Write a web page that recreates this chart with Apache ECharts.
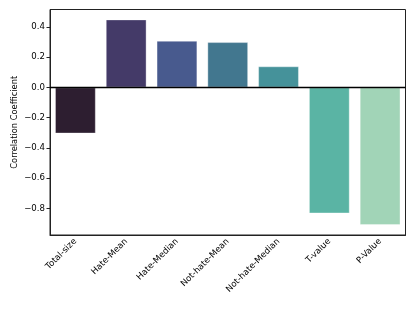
<!DOCTYPE html>
<html>
<head>
<meta charset="utf-8">
<script src="https://cdn.jsdelivr.net/npm/echarts@6/dist/echarts.min.js"></script>
<style>html,body{margin:0;padding:0;background:#fff;}#c{width:415px;height:311px;}</style>
</head>
<body>
<div id="c"></div>
<script>
const categories = ['Total-size', 'Hate-Mean', 'Hate-Median', 'Not-hate-Mean', 'Not-hate-Median', 'T-value', 'P-Value'];
const values = [-0.304, 0.449, 0.308, 0.299, 0.139, -0.832, -0.909];
const barColors = ['#2d1e30', '#443a68', '#485a8e', '#42778f', '#45929a', '#5ab4a4', '#a1d4b7'];
const yTicks = [-0.8, -0.6, -0.4, -0.2, 0.0, 0.2, 0.4];

const font = 'DejaVu Sans';
const fmt = v => (v < 0 ? '\u2212' : '') + Math.abs(v).toFixed(1);

const chart = echarts.init(document.getElementById('c'), null, {renderer: 'canvas'});
chart.setOption({
  animation: false,
  grid: {left: 50, right: 9.5, top: 9.5, bottom: 311 - 235, show: true, borderColor: '#222', borderWidth: 1, backgroundColor: 'transparent', containLabel: false, outerBoundsMode: 'none'},
  xAxis: {
    type: 'category',
    data: categories,
    axisLine: {onZero: false, lineStyle: {color: '#222', width: 1}},
    axisTick: {alignWithLabel: true, length: 3.5, lineStyle: {color: '#222'}},
    axisLabel: {rotate: 45, color: '#000', fontFamily: font, fontSize: 8.6, margin: 5},
    splitLine: {show: false}
  },
  yAxis: {
    type: 'value',
    min: -0.975,
    max: 0.515,
    name: 'Correlation Coefficient',
    nameLocation: 'middle',
    nameGap: 31,
    nameMoveOverlap: false,
    nameTextStyle: {color: '#000', fontFamily: font, fontSize: 8.3},
    axisLine: {show: true, lineStyle: {color: '#222'}},
    axisTick: {show: true, length: 3.5, customValues: yTicks, lineStyle: {color: '#222'}},
    axisLabel: {color: '#000', fontFamily: font, fontSize: 8.6, margin: 5, customValues: yTicks, formatter: fmt},
    splitLine: {show: false}
  },
  series: [{
    type: 'bar',
    data: values.map((v, i) => ({value: v, itemStyle: {color: barColors[i]}})),
    barCategoryGap: '20%',
    itemStyle: {borderColor: 'rgba(255,255,255,0.45)', borderWidth: 0.8},
    markLine: {
      silent: true,
      symbol: 'none',
      label: {show: false},
      lineStyle: {color: '#000', type: 'solid', width: 1.3},
      data: [{yAxis: 0}]
    }
  }]
});
</script>
</body>
</html>
